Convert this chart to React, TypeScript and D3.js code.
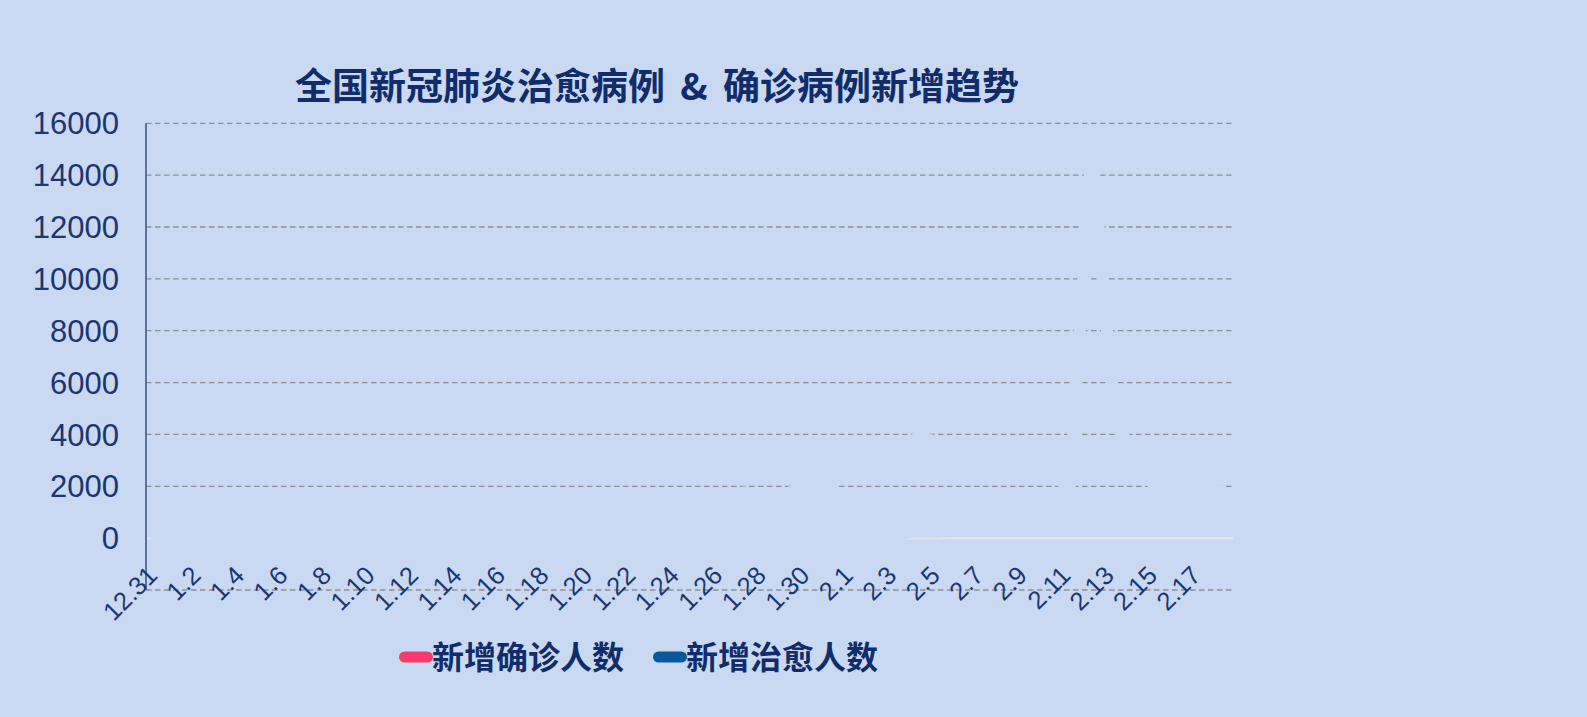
import * as d3 from 'd3';
import React, { useRef, useEffect } from 'react';

// dates on the category axis
const dates: string[] = [
  '12.31',
  '1.1', '1.2', '1.3', '1.4', '1.5', '1.6', '1.7', '1.8', '1.9', '1.10',
  '1.11', '1.12', '1.13', '1.14', '1.15', '1.16', '1.17', '1.18', '1.19', '1.20',
  '1.21', '1.22', '1.23', '1.24', '1.25', '1.26', '1.27', '1.28', '1.29', '1.30', '1.31',
  '2.1', '2.2', '2.3', '2.4', '2.5', '2.6', '2.7', '2.8', '2.9', '2.10',
  '2.11', '2.12', '2.13', '2.14', '2.15', '2.16', '2.17', '2.18'
];

// 新增确诊人数
const confirmed: number[] = [
  27,
  0, 0, 17, 0, 15, 0, 0, 0, 0, 0,
  0, 0, 0, 0, 0, 4, 17, 59, 77, 77,
  149, 131, 259, 444, 688, 769, 1771, 1459, 1737, 1982, 2102,
  2590, 2829, 3235, 3887, 3694, 3143, 3399, 2656, 3062, 2478,
  2015, 15152, 5090, 2641, 2009, 2048, 1886, 1749
];

// 新增治愈人数
const cured: number[] = [
  0,
  0, 0, 0, 0, 0, 0, 0, 0, 0, 0,
  0, 0, 0, 0, 0, 0, 0, 0, 0, 0,
  3, 3, 6, 3, 11, 2, 9, 43, 21, 47, 72,
  85, 147, 157, 262, 261, 387, 510, 600, 632, 716,
  744, 1171, 1081, 1373, 1323, 1425, 1701, 1824
];

const yTicks: number[] = [16000, 14000, 12000, 10000, 8000, 6000, 4000, 2000, 0];
const title = '全国新冠肺炎治愈病例 & 确诊病例新增趋势';
const legendNames: string[] = ['新增确诊人数', '新增治愈人数'];

const BG = '#c9d9f1';
const NAVY = '#102c6a';
const TICK = '#1b3670';
const legendColors = ['#f43b6c', '#0b5797'];

function App(): any {
  const ref = useRef<SVGSVGElement>(null);
  const width = 1587;
  const height = 717;

  useEffect(() => {
    const svg = d3.select(ref.current);
    svg.selectAll('*').remove();

    svg.append('rect')
      .attr('width', width)
      .attr('height', height)
      .attr('fill', BG);

    const x = d3.scalePoint<string>()
      .domain(dates)
      .range([146, 1233])
      .padding(0.5);

    const y = d3.scaleLinear()
      .domain([-2000, 16000])
      .range([590, 123.3]);

    // dashed gridlines (0 gets a light solid line instead)
    svg.append('g')
      .selectAll('line')
      .data([...yTicks.filter(t => t !== 0), -2000])
      .join('line')
      .attr('x1', 146)
      .attr('x2', 1233)
      .attr('y1', d => y(d))
      .attr('y2', d => y(d))
      .attr('stroke', '#8c8f96')
      .attr('stroke-width', 1.3)
      .attr('stroke-dasharray', '5.5 3.5');

    svg.append('line')
      .attr('x1', 146)
      .attr('x2', 1233)
      .attr('y1', y(0))
      .attr('y2', y(0))
      .attr('stroke', '#e1e7f1')
      .attr('stroke-width', 2);

    // series lines: in this frame they blend into the background
    const line = d3.line<number>()
      .x((_, i) => x(dates[i]) as number)
      .y(d => y(d));

    svg.append('g')
      .selectAll('path')
      .data([cured, confirmed])
      .join('path')
      .attr('d', d => line(d))
      .attr('fill', 'none')
      .attr('stroke', BG)
      .attr('stroke-width', 12)
      .attr('stroke-linejoin', 'round')
      .attr('stroke-linecap', 'round');

    // y axis line
    svg.append('line')
      .attr('x1', 146)
      .attr('x2', 146)
      .attr('y1', y(16000))
      .attr('y2', y(-2000))
      .attr('stroke', '#34537d')
      .attr('stroke-width', 1.5);

    svg.append('g')
      .selectAll('text')
      .data(yTicks)
      .join('text')
      .attr('x', 119)
      .attr('y', d => y(d))
      .attr('dy', '0.36em')
      .attr('text-anchor', 'end')
      .attr('font-family', '"Liberation Sans", Arial, sans-serif')
      .attr('font-size', 31)
      .attr('fill', TICK)
      .text(d => d);

    // rotated x labels, every second day
    svg.append('g')
      .selectAll('text')
      .data(dates.filter((_, i) => i % 2 === 0))
      .join('text')
      .attr('transform', d => `translate(${(x(d) as number) + 2},577) rotate(-45)`)
      .attr('text-anchor', 'end')
      .attr('font-family', '"Liberation Sans", Arial, sans-serif')
      .attr('font-size', 25.5)
      .attr('fill', TICK)
      .text(d => d);

    svg.append('text')
      .attr('x', 657)
      .attr('y', 84)
      .attr('dominant-baseline', 'central')
      .attr('text-anchor', 'middle')
      .attr('font-family', '"Noto Sans CJK SC", sans-serif')
      .attr('font-weight', 700)
      .attr('font-size', 37)
      .attr('word-spacing', 7)
      .attr('fill', NAVY)
      .text(title);

    // legend
    const lg = svg.append('g')
      .selectAll('g')
      .data(legendNames)
      .join('g')
      .attr('transform', (_, i) => `translate(${399 + i * 254},0)`);

    lg.append('line')
      .attr('x1', 5.5)
      .attr('x2', 28.5)
      .attr('y1', 657)
      .attr('y2', 657)
      .attr('stroke', (_, i) => legendColors[i])
      .attr('stroke-width', 11)
      .attr('stroke-linecap', 'round');

    lg.append('text')
      .attr('x', 33)
      .attr('y', 655)
      .attr('dominant-baseline', 'central')
      .attr('font-family', '"Noto Sans CJK SC", sans-serif')
      .attr('font-weight', 700)
      .attr('font-size', 32)
      .attr('fill', NAVY)
      .text(d => d);
  }, []);

  return (
    <div style={{ position: 'fixed', left: 0, top: 0 }}>
      <svg ref={ref} width={width} height={height} style={{ display: 'block' }} />
    </div>
  );
}

export default App;
